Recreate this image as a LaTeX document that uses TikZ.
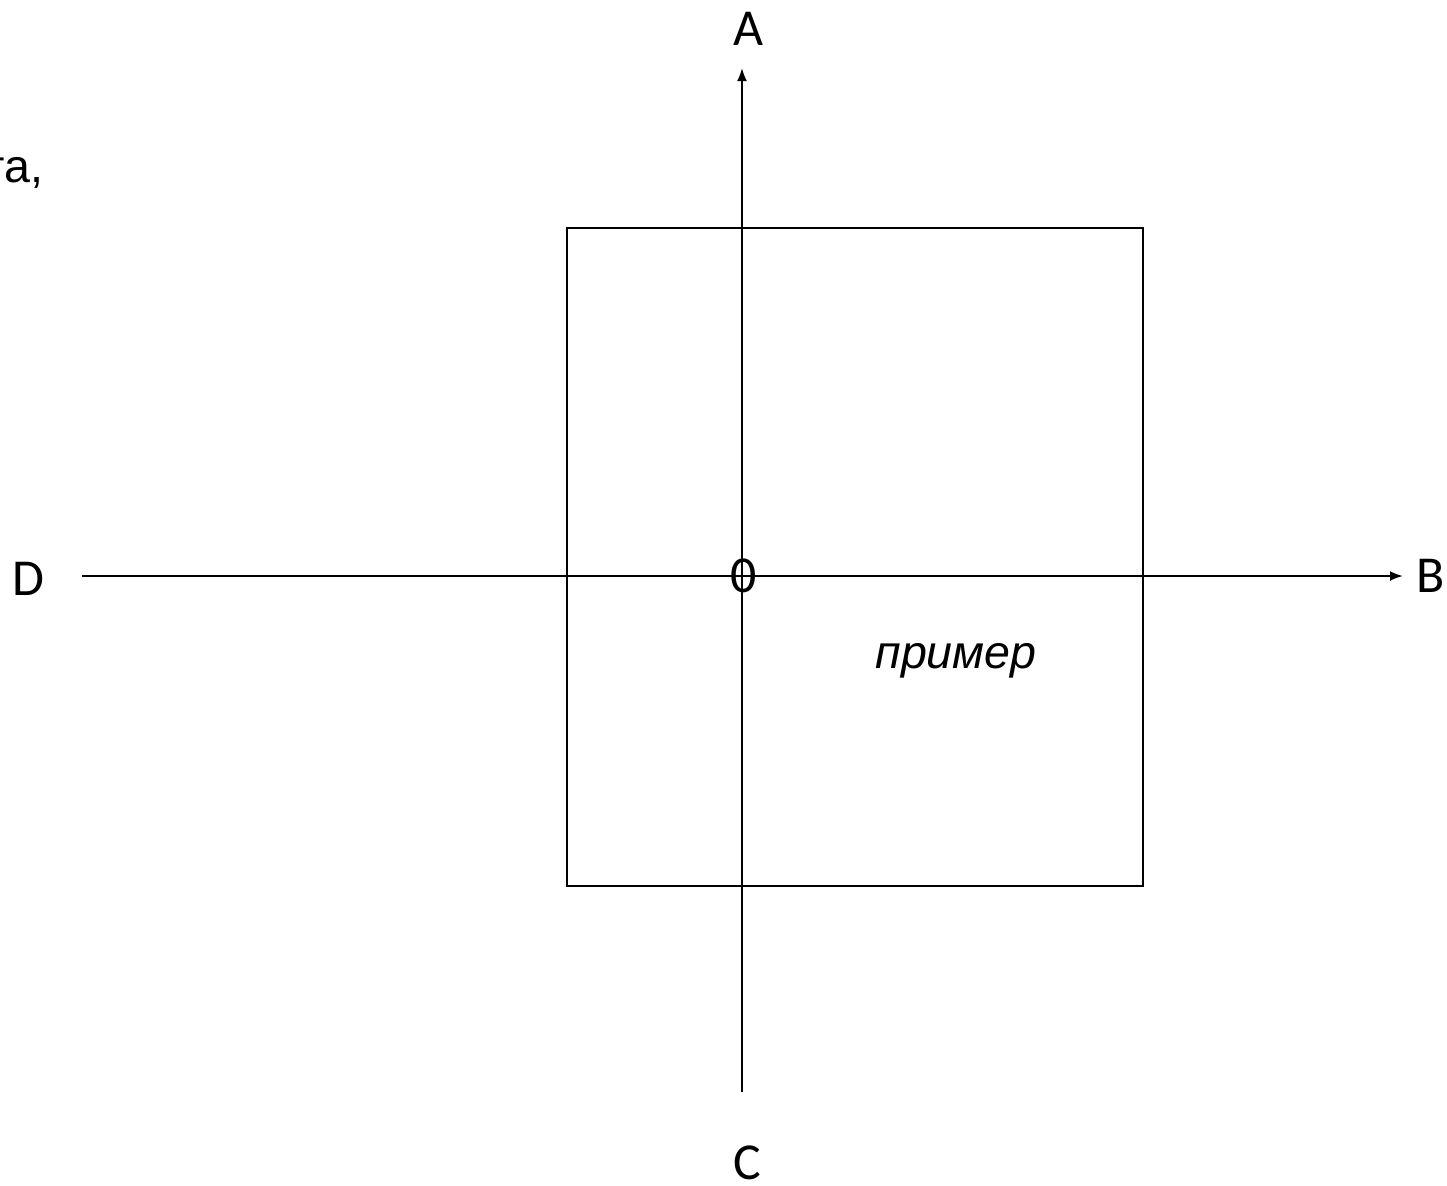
\documentclass[tikz,border=0pt]{standalone}
\usepackage{fontspec}
\setmainfont{Carlito}
\newfontfamily\arialfont{Liberation Sans}
\usetikzlibrary{arrows.meta}
\tikzset{
    axis/.style={line width=0.4mm},
    axisarr/.style={axis,-{Latex[length=2.6mm,width=2mm]}},
    frame/.style={draw,line width=0.4mm},
    lbl/.style={font=\fontsize{29.5}{34}\selectfont,inner sep=0pt,anchor=base},
    note/.style={font=\arialfont\fontsize{26.5}{30}\selectfont,inner sep=0pt},
}

\begin{document}
\begin{tikzpicture}[x=0.2mm,y=-0.2mm]
\useasboundingbox (0,0) rectangle (1447,1185);
% square
\node[frame,minimum width=115.2mm,minimum height=131.6mm,inner sep=0pt] (sq) at (855,557) {};
% axis ends
\coordinate (atip) at (742,68);
\coordinate (cend) at (742,1092);
\coordinate (btip) at (1403,576);
\coordinate (dend) at (82,576);
\draw[axisarr] (cend) -- (atip);
\draw[axisarr] (dend) -- (btip);
% labels
\node[lbl] (A) at (748,45) {A};
\node[lbl] (B) at (1431,592) {B};
\node[lbl] (C) at (747,1179) {C};
\node[lbl] (D) at (28,595) {D};
\node[lbl] (O) at (744,592) {0};
\node[note,anchor=base,font=\arialfont\itshape\fontsize{26.5}{30}\selectfont] (ex) at (956,668) {пример};
\node[note,anchor=base east] (cut) at (44,182) {га,};
\end{tikzpicture}
\end{document}
